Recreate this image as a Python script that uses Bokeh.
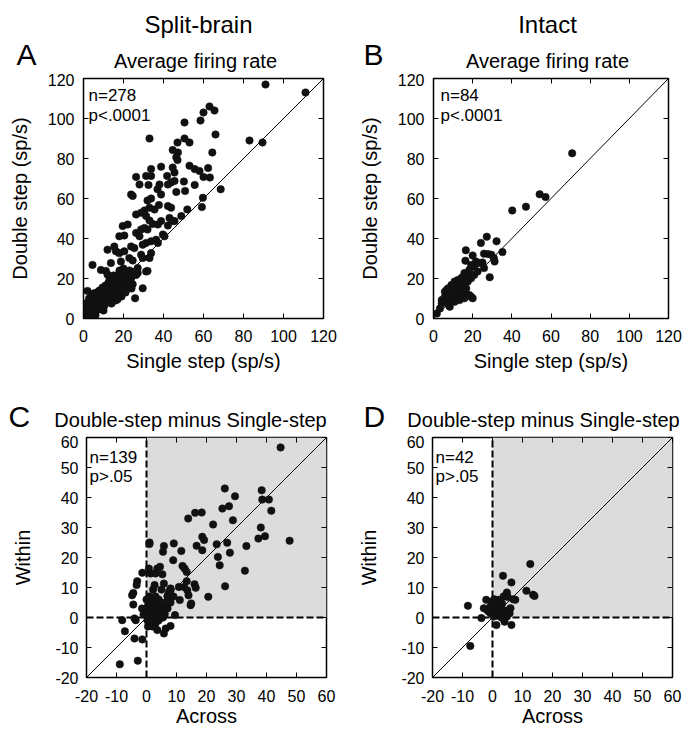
from bokeh.plotting import figure
from bokeh.models import Range1d, FixedTicker, LinearAxis, Label, CustomJSTickFormatter
from bokeh.layouts import row, column
from bokeh.core.properties import value
from bokeh.embed import file_html
from bokeh.resources import INLINE

FONT = "Liberation Sans"

# ---------------- data ----------------
column_titles = ["Split-brain", "Intact"]
panel_letters = ["A", "B", "C", "D"]
row_titles = ["Average firing rate", "Double-step minus Single-step"]
rate_ticks = [0, 20, 40, 60, 80, 100, 120]
diff_ticks = [-20, -10, 0, 10, 20, 30, 40, 50, 60]
diff_tick_labels = ["-20", "-10", "0", "10", "20", "30", "40", "50", "60"]

# Panel A: split-brain, average firing rate (single step vs double step)
a_single = [91, 111, 63, 65.5, 60, 58.5, 50.5, 66, 33, 47, 50.5, 53, 83, 89.5, 44.6, 47.2, 64.4, 46.4, 47,
            38.8, 33.8, 53, 55.6, 58, 62.3, 63.2, 44.6, 45.5, 41.8, 26.3, 31.3, 33.8, 28, 32.5, 38, 37, 42.2,
            43.8, 45.5, 55.6, 50.2, 60, 68.6, 46.4, 50.8, 23.8, 24.6, 38.8, 32, 33.8, 59.7, 59.2, 51.9, 42.2,
            43.8, 37.7, 30.5, 33, 35.5, 26.3, 28.8, 31.3, 48.9, 43, 45.5, 38.8, 37.2, 42.2, 44.6, 19.6, 22.1,
            33, 34.6, 30.5, 32, 26.3, 28.8, 28, 17.9, 20.4, 39.7, 40.5, 36.3, 37.2, 33.8, 31.3, 29.6, 23.8,
            25.4, 12, 15.4, 16.2, 17.9, 20.4, 33.8, 33, 28.8, 29.6, 22.9, 24.6, 13.7, 18.7, 4.5, 8.7, 11.2,
            27.1, 31.3, 32, 26.3, 27.1, 20.4, 23.8, 21.3, 24.6, 29.6, 25.8, 2,
            0.3, 0.5, 0.8, 1, 1, 1.2, 1.5, 1.8, 2, 2, 2.3, 2.5, 2.8, 3, 3, 3.2, 3.5, 3.8, 4, 4, 4.3, 4.5, 5, 5,
            5, 5.5, 6, 6, 6, 6.5, 6.5, 7, 7, 7.5, 7.5, 8, 8, 8, 8.5, 9, 9, 9, 9.5, 10, 10, 10, 10.5, 11, 11,
            11, 11.5, 12, 12, 12.5, 12.5, 13, 13, 13.5, 14, 14, 14, 14.5, 15, 15, 15.5, 16, 16, 16, 16.5, 17,
            17, 17.5, 18, 18, 18.5, 19, 19, 19.5, 20, 20, 21, 21, 22, 22, 23, 23, 24, 20, 18, 15, 13, 12, 26,
            17, 21, 24, 6, 10, 14, 16.9]
a_double = [117, 113, 106, 104, 103, 99, 98, 92, 90, 88, 90, 88, 89, 88, 84.3, 83, 83, 80.6, 79.2,
            75.9, 74.7, 76.4, 74.7, 73.8, 75.2, 70.5, 75.5, 73, 71.3, 70.8, 71.3, 71.3, 67, 66.8, 67, 64.6, 67,
            68, 68.8, 66.8, 68.5, 70.8, 64.6, 63.3, 63.8, 62, 61.3, 62, 59, 60, 60.4, 55.7, 54.5, 56.2,
            55.4, 56.7, 54, 55.4, 54.5, 52, 52.9, 51.2, 51.2, 50.3, 48.7, 48.7, 47, 46.5, 48.7, 46.2, 47,
            49, 47.3, 45.3, 44.5, 42.8, 44.5, 41.1, 41.1, 41.5, 42, 41.1, 39.4, 37.8, 38.6, 37.8, 36.9, 36,
            35.2, 34.4, 36, 33.6, 32.7, 33.6, 32.7, 30.2, 31.9, 30.2, 30.2, 29, 27.7, 28.5, 26.8, 24.3, 23.8,
            25.2, 23.5, 23.8, 21.8, 22.7, 21.8, 20.1, 18.5, 17.1, 15.1, 10.1, 13.8,
            0.5, 1.5, 3, 0.8, 4.5, 2, 6, 1.2, 3.5, 8, 5, 2, 10, 4, 6.5, 1.5, 8, 3, 5, 11, 7, 2.5, 4, 9,
            12.5, 6, 3.5, 8, 10.5, 5, 13, 7, 9.5, 4.5, 11.5, 6, 8.5, 14, 10, 5.5, 7.5, 12, 15.5, 9, 11, 13.5, 6.5, 8, 10,
            16.5, 12.5, 9.5, 14.5, 11, 18, 8.5, 13, 15.5, 10.5, 12, 19.5, 17, 11.5, 14, 16, 9, 13, 20, 18, 12,
            15, 22, 14, 17, 19.5, 11, 16, 21, 14.5, 18.5, 16, 23, 17, 20, 19, 24, 21, 25, 24, 21.5, 20.5, 22, 23,
            9.5, 13, 15, 1.5, 4, 7.5, 12]

# Panel B: intact, average firing rate
b_single = [70.8, 54.2, 57.2, 47.2, 40.2, 27.2, 24.2, 32.2, 16.5, 16.3, 20, 25.8, 27.8, 29.5, 30.8, 31.2,
            35.2, 21.7, 23.3, 25, 25.8, 19.2, 20.8, 28.7, 18.3, 17.5, 15.8, 15, 19.2, 20, 18.3, 12.5, 10.8,
            11.7, 9.2, 7.5, 6.7, 5.8, 4.2, 4.2, 7.5, 8.3, 13.3, 12.8, 15.8, 16.7, 14.2, 13.3, 10, 10.8, 1.7,
            3.3, 15, 15.8, 6.7, 8.3, 9.2, 11.7, 10.8, 5.5, 17.5, 19.2, 20.8, 22.5, 13.8, 14.5, 9, 12, 14, 6,
            11, 13, 8, 17]
b_double = [82.6, 62.1, 60.7, 55.9, 54, 40.9, 37.8, 38.6, 34.1, 28.9, 31.5, 32.4, 32.2, 31.9, 30.2, 28.5,
            33.2, 28.5, 27.7, 28, 25.2, 26.8, 26, 20.6, 24.3, 21.8, 22.7, 20.1, 10.9, 10.1, 11.7, 19.3, 18.5,
            16.8, 16.8, 15.1, 14.3, 13.4, 9.2, 7.6, 7, 5.9, 9.2, 13.8, 13.4, 15.1, 16.4, 12.6, 11.7, 13.4, 2.5,
            5, 11.7, 10.1, 10.9, 9.2, 11.7, 10.9, 8.4, 10.1, 18.5, 20.1, 21.8, 23.5, 18.5, 20.5, 14, 15, 17, 11,
            12.5, 16, 12, 19]

# Panel C: split-brain, double-step minus single-step (across vs within)
c_across = [44.7, 26.1, 38.4, 29.5, 38.6, 40.8, 41.6, 27.5, 25.3, 16.2, 13.9, 18.4, 28.8, 22.2, 38.1, 39.5,
            37.3, 47.7, 18.6, 19.2, 16.7, 18.6, 33.3, 23.4, 26.9, 27.8, 23.8, 24.4, 32.8, 26.2, 20.6, 9.1, 5.8,
            1, 1, 11.6, 8.9, 5.5, 12, 12.7, 13.4, 13.4, 12.5, 13.6, 14, 10.8, 16, 16.4, 14.7, 14.9, 11.1, 7.5,
            8, 7.1, 5.8, 5, 2.7, 2.2, 1.4, 3, 3.6, 4.5, 0.8, 5.3, 7.5, 9.5, 6, 5.3, 6.9, 5.6, 8, 6.4, 5.8, 3.6,
            -1.4, -3.1, -3.3, -4.4, -4.8, -4.4, -4, -3.6, -8.1, -7.2, -4, -1.4, -8.9, -2.9,
            0.5, 1, 1.5, 2, 2.5, 3, 1, 0.5, 1, 2, 3, 4, 3, 4, 5, 2, 1, 0.5, 3, 4, 5, 6, 7, 6, 5, 4, 3, 1, 0.3,
            0.3, 2, 1.5, 2.5, 3.5, 4.5, 6, -0.5, -1, -1.5, 0, 8, 9, 7, 8, 2, 4, 1.5, 0.8, 3.2, 5.5]
c_within = [56.7, 43, 42.4, 40.4, 39.3, 39.3, 35.6, 37.1, 36.3, 34.9, 33, 35, 32.4, 31, 30, 27.1,
            26.3, 25.6, 26.9, 25.8, 23.9, 22.4, 23.8, 24.4, 24.9, 21.6, 20.2, 17.4, 15.6, 10.4, 6.9, 24.7, 23.8,
            25, 24.5, 22.2, 19.1, 21.9, 17.2, 16.3, 15.2, 12.1, 10.2, 9.1, 7.4, 10.2, 11.1, 9.9, 4.1, 4.7, 5.8, 8.6,
            9.7, 7.4, 11.3, 9.3, 10.8, 9.3, 14.7, 14.7, 16.3, 16.9, 16.3, 14.4, 5.8, 0.8, 1.3, 0.4, 3.6, 4.4, -2.8,
            -3.7, -5.3, -4.2,
            14.9, 12.1, 10.8, 8.2, 7.4, 4.3, -0.3, -0.9, -0.9, -4.6, -7, -7.3, -15.6, -14.4,
            0, 1, 2, 3, 1, 2, 3, 4, 5, 6, 5, 4, 0, 1, 2, -1, -2, -3, -2, -1, 0, 1, 3, 4, 5, 6, 7, 7, 2, -1, -3,
            4.5, 4, 3, 2.5, 2.5, 2, 1, 3, 6, 5, 7, 7, 9, 0.5, -0.5, -1.5, 5.5, 1.5, 0]

# Panel D: intact, double-step minus single-step
d_across = [12.6, 3.5, 6.3, 11.3, 13.5, 14, 4.8, 7.6, 6.9, -8.2, -2.1, -2.9, -3.7, -7.4, 1.3, 4, 6.3,
            -1.8, -0.7, -0.2, 0.4, 0.9, 1.5, 2.1, 2.6, 3.2, 3.7, 4.6, 5.1, 2.6, 1.5, 3.7, 4.3, 5.4, 6, 5.7,
            4.8, 3.2, 2.1, 0.4, -0.7, -1.3, 0.6, -0.2]
d_within = [17.8, 13.9, 11.7, 8.9, 7.6, 7.2, 8.3, 5.9, 6.1, 3.9, 5.9, 3.1, -0.2, -9.5, -2.5, -1.4, -2.5,
            2.5, 3.7, 1.4, 3.1, 4.8, 4.2, 5.9, 5.3, 4.6, 7, 7.6, 6.8, 3.1, 2, 2.3, 1.4, 2.5, 3.1, 1.4,
            0.3, -0.2, 0.5, 0.3, 1.4, 2, 6.1, 5.3]

# ---------------- drawing ----------------
TOTAL_W = 695


def style_axis(ax, ticks, standoff, show_labels=True, tick_labels=None):
    ax.ticker = FixedTicker(ticks=ticks)
    ax.major_tick_in = 5
    ax.major_tick_out = 0
    ax.major_tick_line_color = "black"
    ax.major_tick_line_width = 1
    ax.minor_tick_line_color = None
    ax.axis_line_color = None
    ax.major_label_text_font = FONT
    ax.major_label_text_font_size = "16px"
    ax.major_label_text_color = "black"
    ax.major_label_standoff = standoff
    ax.axis_label_text_font = FONT
    ax.axis_label_text_font_style = "normal"
    ax.axis_label_text_font_size = "20px"
    ax.axis_label_text_color = "black"
    if tick_labels is not None:
        ax.major_label_overrides = {t: s for t, s in zip(ticks, tick_labels)}
    if not show_labels:
        ax.formatter = CustomJSTickFormatter(code="return ''")
        ax.major_label_text_font_size = "1px"
        ax.major_label_standoff = 0


def inner_text(p, t, x, y):
    p.add_layout(Label(x=x, y=y, x_units="screen", y_units="screen", text=t,
                       text_font=FONT, text_font_size="17px", text_align="left",
                       text_baseline="middle", text_color="black"))


def panel(w, h, bl, br, bt, bb, rng, ticks, tick_labels, xs, ys, xlabel, ylabel, shaded,
          xstand, ystand, xlstand, ylstand):
    p = figure(width=w, height=h, min_border_left=bl, min_border_right=br,
               min_border_top=bt, min_border_bottom=bb, title=None,
               x_range=Range1d(rng[0], rng[1]), y_range=Range1d(rng[0], rng[1]),
               output_backend="svg", toolbar_location=None,
               background_fill_color="white", border_fill_color="white",
               outline_line_color="black", outline_line_width=1.5)
    p.xgrid.visible = False
    p.ygrid.visible = False
    style_axis(p.xaxis[0], ticks, xstand, tick_labels=tick_labels)
    style_axis(p.yaxis[0], ticks, ystand, tick_labels=tick_labels)
    p.xaxis[0].axis_label = xlabel
    p.yaxis[0].axis_label = ylabel
    p.xaxis[0].axis_label_standoff = xlstand
    p.yaxis[0].axis_label_standoff = ylstand
    top = LinearAxis()
    right = LinearAxis()
    style_axis(top, ticks, 0, show_labels=False)
    style_axis(right, ticks, 0, show_labels=False)
    p.add_layout(top, "above")
    p.add_layout(right, "right")
    if shaded:
        p.quad(left=[0], right=[rng[1]], bottom=[0], top=[rng[1]],
               fill_color="#dcdcdc", line_color=None)
    p.line([rng[0], rng[1]], [rng[0], rng[1]], line_color="black", line_width=1)
    if shaded:
        p.line([0, 0], [rng[0], rng[1]], line_color="black", line_width=2, line_dash="7 3")
        p.line([rng[0], rng[1]], [0, 0], line_color="black", line_width=2, line_dash="7 3")
    p.scatter(xs, ys, size=7.5, fill_color="#111111", line_color="#111111", line_width=0.5)
    return p


def header(h):
    p = figure(width=TOTAL_W, height=h, x_range=Range1d(0, TOTAL_W), y_range=Range1d(h, 0),
               x_axis_type=None, y_axis_type=None, min_border=0, title=None,
               output_backend="svg", toolbar_location=None,
               outline_line_color=None, background_fill_color="white", border_fill_color="white")
    p.xgrid.visible = False
    p.ygrid.visible = False
    return p


def htext(p, xs, ys, texts, size, align):
    p.text(x=xs, y=ys, text=texts, text_font=value(FONT), text_font_size=value(size),
           text_align=value(align), text_baseline=value("middle"), text_color="black")


# top header (73 px): column titles, panel letters A/B, row titles
hTop = header(73)
htext(hTop, [198, 547], [24, 24], column_titles, "24px", "center")
htext(hTop, [195, 547], [60.5, 60.5], [row_titles[0], row_titles[0]], "20px", "center")
htext(hTop, [16, 363], [54, 54], panel_letters[:2], "30px", "left")

# middle header (60 px): panel letters C/D, row titles
hMid = header(60)
htext(hMid, [8, 363], [41, 41], panel_letters[2:], "30px", "left")
htext(hMid, [190, 543], [44.5, 44.5], [row_titles[1], row_titles[1]], "20px", "center")

pA = panel(355, 302, 83, 32, 5, 57, (0, 120), rate_ticks, None, a_single, a_double,
           "Single step (sp/s)", "Double step (sp/s)", False, 11, 9, 5, 14)
inner_text(pA, "n=278", 5, 223)
inner_text(pA, "p<.0001", 5, 203)

pB = panel(340, 302, 73, 27, 5, 57, (0, 120), rate_ticks, None, b_single, b_double,
           "Single step (sp/s)", "Double step (sp/s)", False, 11, 9, 5, 14)
inner_text(pB, "n=84", 7, 223)
inner_text(pB, "p<.0001", 7, 203)

pC = panel(355, 295, 86, 29, 2, 53, (-20, 60), diff_ticks, diff_tick_labels, c_across, c_within,
           "Across", "Within", True, 12, 8, 0, 18)
inner_text(pC, "n=139", 3, 220)
inner_text(pC, "p>.05", 3, 201)

pD = panel(340, 295, 77, 23, 2, 53, (-20, 60), diff_ticks, diff_tick_labels, d_across, d_within,
           "Across", "Within", True, 12, 8, 0, 18)
inner_text(pD, "n=42", 3, 220)
inner_text(pD, "p>.05", 3, 201)

layout = column(hTop, row(pA, pB, spacing=0), hMid, row(pC, pD, spacing=0), spacing=0)
open("out.html", "w").write(file_html(layout, INLINE))
